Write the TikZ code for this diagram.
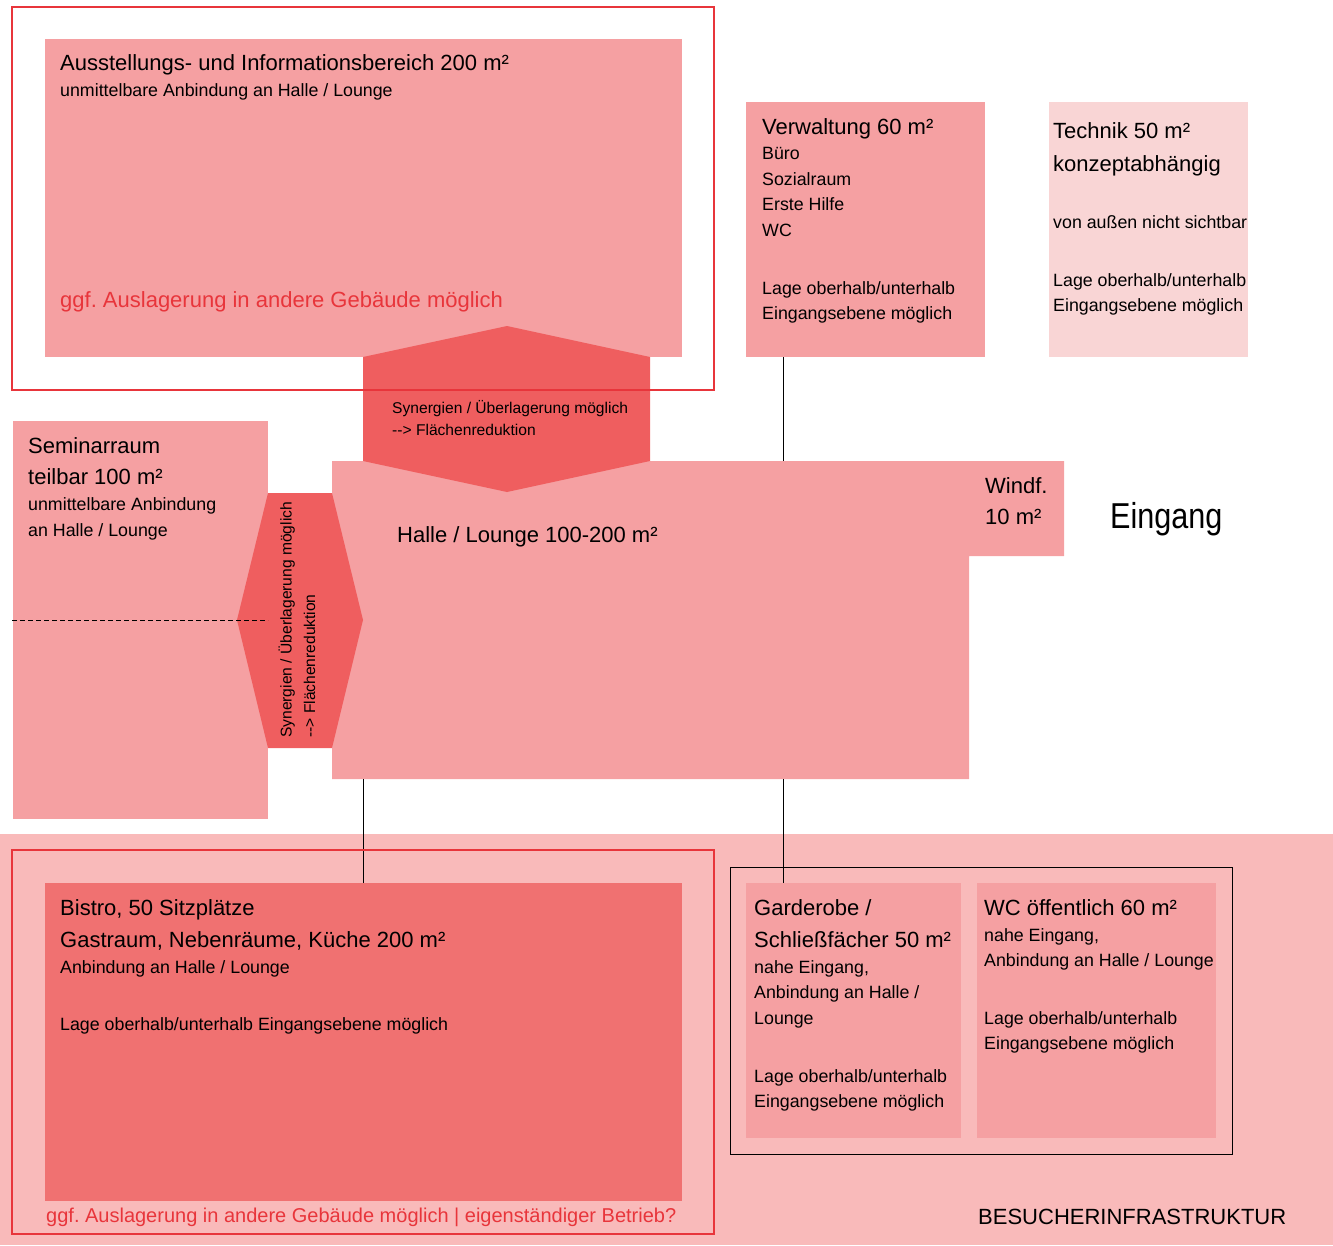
\documentclass[tikz,border=0pt]{standalone}
\usepackage{fontspec}
\setmainfont{Liberation Sans}
\newfontfamily\narrowfont[FakeStretch=0.85]{Liberation Sans}
\newcommand\fTitle{\fontsize{22}{26}\selectfont}
\newcommand\fBody{\fontsize{17.8}{21}\selectfont}
\newcommand\fSmall{\fontsize{15.6}{18}\selectfont}
\newcommand\fRed{\fontsize{20}{24}\selectfont}
\frenchspacing
\definecolor{pinkmain}{HTML}{F5A0A2}
\definecolor{hexred}{HTML}{EF5E5F}
\definecolor{bistrored}{HTML}{F07171}
\definecolor{techpink}{HTML}{F9D5D5}
\definecolor{bgpink}{HTML}{F9BABA}
\definecolor{lineRed}{HTML}{E8353B}
\definecolor{redtext}{HTML}{E8353B}
\tikzset{
  room/.style={fill=pinkmain, draw=none, inner sep=0, anchor=north west},
  frameRed/.style={draw=lineRed, line width=1.2pt, fill=none},
  frameBlack/.style={draw=black, line width=1pt, fill=none},
  conn/.style={draw=black, line width=0.9pt},
  txt/.style={inner sep=0, anchor=base west, text=black, font=\frenchspacing},
  redtxt/.style={inner sep=0, anchor=base west, text=redtext, font=\frenchspacing},
}
\begin{document}
\begin{tikzpicture}[x=1pt,y=-1pt]
\useasboundingbox (0,0) rectangle (1333,1245);
% bottom background
\fill[bgpink] (0,834) rectangle (1333,1245);
% boxes
\node[room, minimum width=637pt, minimum height=318pt] (aus) at (45,39) {};
\node[room, minimum width=239pt, minimum height=255pt] (verw) at (746,102) {};
\node[room, fill=techpink, minimum width=199pt, minimum height=255pt] (tech) at (1049,102) {};
\node[room, minimum width=255pt, minimum height=398pt] (sem) at (13,421) {};
\fill[pinkmain] (332,461) -- (1064,461) -- (1064,556) -- (969,556) -- (969,779) -- (332,779) -- cycle;
\coordinate (halleTopV) at (783,461);
\coordinate (halleBotB) at (363,779);
\coordinate (halleBotG) at (783,779);
\node[room, fill=bistrored, minimum width=637pt, minimum height=318pt] (bistro) at (45,883) {};
\node[room, minimum width=215pt, minimum height=255pt] (garde) at (746,883) {};
\node[room, minimum width=239pt, minimum height=255pt] (wc) at (977,883) {};
% hexagons
\fill[hexred] (363,357) -- (507,326) -- (650,357) -- (650,461) -- (507,492) -- (363,461) -- cycle;
\fill[hexred] (268,493) -- (332,493) -- (363,620) -- (332,748) -- (268,748) -- (237,620) -- cycle;
% dashed division of seminar room
\draw[line width=0.9pt, dash pattern=on 5pt off 3pt] (12,620) -- (268,620);
% connectors
\draw[conn] (verw.south -| halleTopV) -- (halleTopV);
\draw[conn] (halleBotB) -- (bistro.north -| halleBotB);
\draw[conn] (halleBotG) -- (garde.north -| halleBotG);
% frames
\draw[frameRed] (12,7) rectangle (714,390);
\draw[frameRed] (12,850) rectangle (714,1234);
\draw[frameBlack] (730,867) rectangle (1232,1154);
% texts: Ausstellung
\node[txt] (t1) at (60,70) {\fTitle Ausstellungs- und Informationsbereich 200 m²};
\node[txt] (t2) at (60,96) {\fBody unmittelbare Anbindung an Halle / Lounge};
\node[redtxt] (t3) at (60,307) {\fTitle ggf. Auslagerung in andere Gebäude möglich};
% Verwaltung
\node[txt] (v1) at (762,134) {\fTitle Verwaltung 60 m²};
\node[txt] (v2) at (762,159) {\fBody Büro};
\node[txt] (v3) at (762,185) {\fBody Sozialraum};
\node[txt] (v4) at (762,210) {\fBody Erste Hilfe};
\node[txt] (v5) at (762,236) {\fBody WC};
\node[txt] (v6) at (762,294) {\fBody Lage oberhalb/unterhalb};
\node[txt] (v7) at (762,319) {\fBody Eingangsebene möglich};
% Technik
\node[txt] (k1) at (1053,138) {\fTitle Technik 50 m²};
\node[txt] (k2) at (1053,171) {\fTitle konzeptabhängig};
\node[txt] (k3) at (1053,228) {\fBody von außen nicht sichtbar};
\node[txt] (k4) at (1053,286) {\fBody Lage oberhalb/unterhalb};
\node[txt] (k5) at (1053,311) {\fBody Eingangsebene möglich};
% Seminar
\node[txt] (s1) at (28,453) {\fTitle Seminarraum};
\node[txt] (s2) at (28,484) {\fTitle teilbar 100 m²};
\node[txt] (s3) at (28,510) {\fBody unmittelbare Anbindung};
\node[txt] (s4) at (28,536) {\fBody an Halle / Lounge};
% hexagon texts
\node[txt] (h1) at (392,413.5) {\fSmall Synergien / Überlagerung möglich};
\node[txt] (h2) at (392,435.5) {\fSmall {-}{-}> Flächenreduktion};
\node[txt, rotate=90] (h3) at (291.5,738) {\fSmall Synergien / Überlagerung möglich};
\node[txt, rotate=90] (h4) at (315,738) {\fSmall {-}{-}> Flächenreduktion};
% Halle
\node[txt] (l1) at (397,542) {\fTitle Halle / Lounge 100-200 m²};
\node[txt] (w1) at (985,493) {\fTitle Windf.};
\node[txt] (w2) at (985,524) {\fTitle 10 m²};
\node[txt] (eing) at (1110,528) {\narrowfont\fontsize{36}{40}\selectfont Eingang};
% Bistro
\node[txt] (b1) at (60,915) {\fTitle Bistro, 50 Sitzplätze};
\node[txt] (b2) at (60,947) {\fTitle Gastraum, Nebenräume, Küche 200 m²};
\node[txt] (b3) at (60,973) {\fBody Anbindung an Halle / Lounge};
\node[txt] (b4) at (60,1030) {\fBody Lage oberhalb/unterhalb Eingangsebene möglich};
\node[redtxt] (b5) at (46,1222) {\fRed ggf. Auslagerung in andere Gebäude möglich | eigenständiger Betrieb?};
% Garderobe
\node[txt] (g1) at (754,915) {\fTitle Garderobe /};
\node[txt] (g2) at (754,947) {\fTitle Schließfächer 50 m²};
\node[txt] (g3) at (754,973) {\fBody nahe Eingang,};
\node[txt] (g4) at (754,998) {\fBody Anbindung an Halle /};
\node[txt] (g5) at (754,1024) {\fBody Lounge};
\node[txt] (g6) at (754,1082) {\fBody Lage oberhalb/unterhalb};
\node[txt] (g7) at (754,1107) {\fBody Eingangsebene möglich};
% WC
\node[txt] (c1) at (984,915) {\fTitle WC öffentlich 60 m²};
\node[txt] (c2) at (984,941) {\fBody nahe Eingang,};
\node[txt] (c3) at (984,966) {\fBody Anbindung an Halle / Lounge};
\node[txt] (c4) at (984,1024) {\fBody Lage oberhalb/unterhalb};
\node[txt] (c5) at (984,1049) {\fBody Eingangsebene möglich};
% label
\node[txt] (bes) at (978,1224) {\fTitle BESUCHERINFRASTRUKTUR};
\end{tikzpicture}
\end{document}
